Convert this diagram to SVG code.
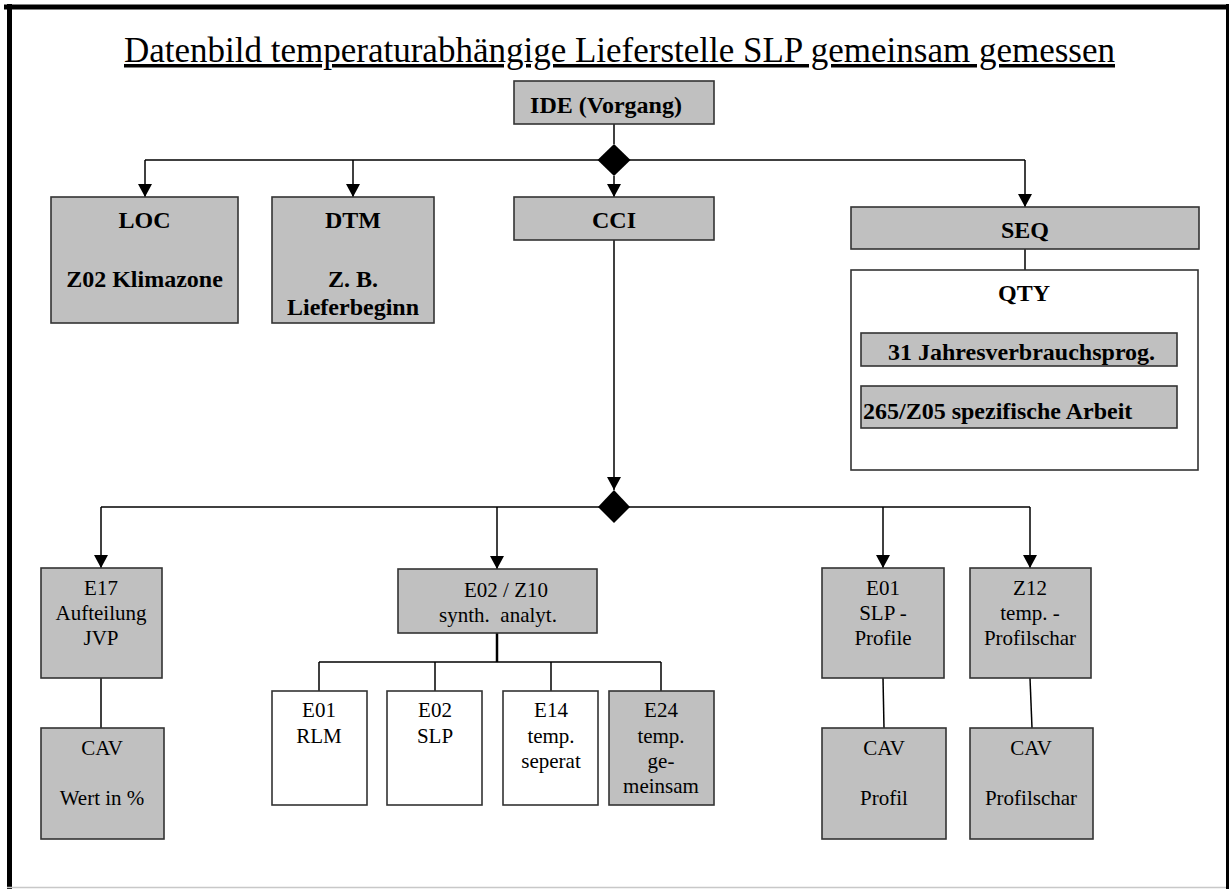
<svg xmlns="http://www.w3.org/2000/svg" width="1229" height="889" viewBox="0 0 1229 889">
<style>
.box{fill:#c0c0c0;stroke:#333;stroke-width:1.6}
.wbox{fill:#fff;stroke:#333;stroke-width:1.6}
.b{font-family:"Liberation Serif","Times New Roman",serif;font-weight:bold;font-size:24px;fill:#000}
.r{font-family:"Liberation Serif","Times New Roman",serif;font-size:21px;fill:#000}
.c{text-anchor:middle}
.ln{stroke:#000;stroke-width:1.5;fill:none}
.arr{stroke:#000;stroke-width:1.5;fill:none;marker-end:url(#ah)}
</style>
<defs>
<marker id="ah" markerUnits="userSpaceOnUse" markerWidth="14" markerHeight="14" viewBox="0 0 13 14" refX="13" refY="7" orient="auto">
<path d="M0,0 L13,7 L0,14 z" fill="#000"/>
</marker>
</defs>
<rect width="1229" height="889" fill="#fff"/>
<g id="frame">
<line x1="4" y1="7" x2="1229" y2="7" stroke="#000" stroke-width="5"/>
<line x1="9.5" y1="4" x2="9.5" y2="889" stroke="#000" stroke-width="5"/>
<line x1="1227.5" y1="4" x2="1227.5" y2="889" stroke="#000" stroke-width="3"/>
<line x1="7" y1="887.5" x2="1226" y2="887.5" stroke="#c8c8c8" stroke-width="1.5"/>
</g>
<text id="title" x="124" y="62" font-family="Liberation Serif, Times New Roman, serif" font-size="35" text-decoration="underline" fill="#000">Datenbild temperaturabhängige Lieferstelle SLP gemeinsam gemessen</text>
<g id="connectors">
<line class="ln" x1="614" y1="124" x2="614" y2="144"/>
<line class="ln" x1="145" y1="160" x2="1025" y2="160"/>
<path class="arr" d="M145,160 V197"/>
<path class="arr" d="M353,160 V197"/>
<path class="arr" d="M614,176 V197"/>
<path class="arr" d="M1025,160 V207"/>
<line class="ln" x1="1025" y1="249" x2="1025" y2="270"/>
<path class="arr" d="M614,240 V490"/>
<line class="ln" x1="101" y1="507" x2="1030" y2="507"/>
<path class="arr" d="M101,507 V568"/>
<path class="arr" d="M497,507 V569"/>
<path class="arr" d="M883,507 V568"/>
<path class="arr" d="M1030,507 V568"/>
<line class="ln" x1="101" y1="678" x2="101" y2="728"/>
<line class="ln" x1="883" y1="678" x2="884" y2="728"/>
<line class="ln" x1="1030" y1="678" x2="1032" y2="728"/>
<line x1="497" y1="633" x2="497" y2="662" stroke="#000" stroke-width="2.5"/>
<line class="ln" x1="319" y1="662" x2="661" y2="662"/>
<line class="ln" x1="319" y1="662" x2="319" y2="691"/>
<line class="ln" x1="435" y1="662" x2="435" y2="691"/>
<line class="ln" x1="551" y1="662" x2="551" y2="691"/>
<line class="ln" x1="661" y1="662" x2="661" y2="691"/>
<polygon points="614,144 630.5,160 614,176 597.5,160" fill="#000"/>
<polygon points="614,490 630,507 614,523 598,507" fill="#000"/>
</g>
<g id="ide"><rect class="box" x="514" y="81" width="200" height="43"/><text class="b c" x="606" y="113">IDE (Vorgang)</text></g>
<g id="loc"><rect class="box" x="51" y="197" width="187" height="126"/><text class="b c" x="144.5" y="228">LOC</text><text class="b c" x="144.5" y="287">Z02 Klimazone</text></g>
<g id="dtm"><rect class="box" x="272" y="197" width="162" height="126"/><text class="b c" x="353" y="228">DTM</text><text class="b c" x="353" y="287">Z. B.</text><text class="b c" x="353" y="315">Lieferbeginn</text></g>
<g id="cci"><rect class="box" x="514" y="197" width="200" height="43"/><text class="b c" x="614" y="228">CCI</text></g>
<g id="seq"><rect class="box" x="851" y="207" width="348" height="42"/><text class="b c" x="1025" y="238">SEQ</text></g>
<g id="qty"><rect class="wbox" x="851" y="270" width="347" height="200"/><text class="b c" x="1024" y="301">QTY</text>
<rect class="box" x="861" y="333" width="316" height="33"/><text class="b" x="888" y="360">31 Jahresverbrauchsprog.</text>
<rect class="box" x="861" y="386" width="316" height="42"/><text class="b" x="863" y="419">265/Z05 spezifische Arbeit</text></g>
<g id="e17"><rect class="box" x="41" y="568" width="121" height="110"/><text class="r c" x="101" y="595">E17</text><text class="r c" x="101" y="620">Aufteilung</text><text class="r c" x="101" y="645">JVP</text></g>
<g id="cav1"><rect class="box" x="41" y="728" width="123" height="111"/><text class="r c" x="102" y="755">CAV</text><text class="r c" x="102" y="805">Wert in %</text></g>
<g id="e02z10"><rect class="box" x="398" y="569" width="199" height="64"/><text class="r c" x="506" y="597">E02 / Z10</text><text class="r c" x="498" y="622" style="white-space:pre">synth.  analyt.</text></g>
<g id="e01rlm"><rect class="wbox" x="272" y="691" width="95" height="114"/><text class="r c" x="319" y="717">E01</text><text class="r c" x="319" y="743">RLM</text></g>
<g id="e02slp"><rect class="wbox" x="387" y="691" width="95" height="114"/><text class="r c" x="435" y="717">E02</text><text class="r c" x="435" y="743">SLP</text></g>
<g id="e14"><rect class="wbox" x="503" y="691" width="95" height="114"/><text class="r c" x="551" y="717">E14</text><text class="r c" x="551" y="743">temp.</text><text class="r c" x="551" y="768">seperat</text></g>
<g id="e24"><rect class="box" x="609" y="691" width="105" height="114"/><text class="r c" x="661" y="717">E24</text><text class="r c" x="661" y="743">temp.</text><text class="r c" x="661" y="768">ge-</text><text class="r c" x="661" y="793">meinsam</text></g>
<g id="e01slp"><rect class="box" x="822" y="568" width="122" height="110"/><text class="r c" x="883" y="595">E01</text><text class="r c" x="883" y="620">SLP -</text><text class="r c" x="883" y="645">Profile</text></g>
<g id="z12"><rect class="box" x="970" y="568" width="121" height="110"/><text class="r c" x="1030" y="595">Z12</text><text class="r c" x="1030" y="620">temp. -</text><text class="r c" x="1030" y="645">Profilschar</text></g>
<g id="cav2"><rect class="box" x="822" y="728" width="124" height="111"/><text class="r c" x="884" y="755">CAV</text><text class="r c" x="884" y="805">Profil</text></g>
<g id="cav3"><rect class="box" x="970" y="728" width="123" height="111"/><text class="r c" x="1031" y="755">CAV</text><text class="r c" x="1031" y="805">Profilschar</text></g>
</svg>
